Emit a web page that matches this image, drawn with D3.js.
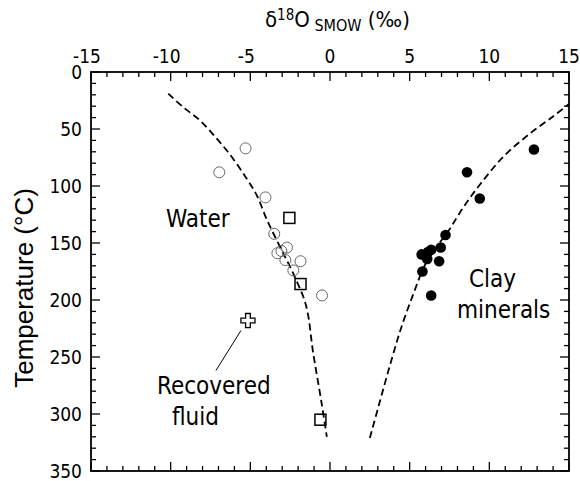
<!DOCTYPE html>
<html>
<head>
<meta charset="utf-8">
<script src="https://d3js.org/d3.v7.min.js"></script>
<style>
body { margin: 0; background: #fff; }
.cond { font-family: "DejaVu Sans Condensed", "DejaVu Sans", sans-serif; font-stretch: condensed; }
</style>
</head>
<body>
<div id="chart-area"></div>
<script>
/*
*    main.js
*/

// open circles - water
var waterD18O = [-5.3, -6.95, -4.05, -3.5, -2.7, -3.05, -3.3, -2.8, -1.85, -2.3, -0.5]
var waterTemp = [67, 88, 110, 142, 154, 157, 159, 165, 166, 174, 196]

// squares
var squareD18O = [-2.55, -1.85, -0.6]
var squareTemp = [128, 186, 305]

// filled circles - clay minerals
var clayD18O = [12.8, 8.6, 9.4, 7.25, 6.95, 6.35, 5.75, 6.1, 6.85, 5.8, 6.35, 6.15]
var clayTemp = [68, 88, 111, 143, 154, 156, 160, 164, 166, 175, 196, 158]

// recovered fluid
var fluidD18O = [-5.15]
var fluidTemp = [218]

// dashed curves
var waterCurveD18O = [-10.15, -9.2, -8.2, -7.2, -6.3, -5.3, -4.6, -3.95, -3.15, -2.2, -1.5, -1.05, -0.52, -0.2]
var waterCurveTemp = [19, 31, 42, 57, 72, 92, 108, 130, 153, 180, 205, 247, 291, 320]
var clayCurveD18O = [2.5, 3.15, 3.85, 4.5, 5.25, 5.9, 6.5, 7.45, 8.4, 9.45, 10.9, 12.55, 14, 15]
var clayCurveTemp = [321, 288, 253, 223, 194, 171, 157, 139, 118, 98, 74, 54, 39, 28]

var xTicks = [-15, -10, -5, 0, 5, 10, 15]
var yTicks = [0, 50, 100, 150, 200, 250, 300, 350]

var margin = {top: 72, right: 11, bottom: 10, left: 91}
var width = 580 - margin.left - margin.right
var height = 481 - margin.top - margin.bottom

var svg = d3.select("#chart-area").append("svg")
.attr("width", 580)
.attr("height", 481)

var g = svg.append("g")
.attr("transform", "translate(" + margin.left + ", " + margin.top + ")")

var x = d3.scaleLinear()
.range([0, width])
.domain([-15, 15])

var y = d3.scaleLinear()
.range([0, 399])
.domain([0, 350])

// frame ticks (inward on all sides)
var xMinor = d3.range(-15, 16, 1)
var yMinor = d3.range(0, 351, 10)

var ticks = g.append("g")
.attr("stroke", "#000")
.attr("stroke-width", 1.3)

xMinor.forEach(v => {
	var len = (v % 5 == 0) ? 9 : 5
	ticks.append("line").attr("x1", x(v)).attr("x2", x(v)).attr("y1", 0).attr("y2", len)
	ticks.append("line").attr("x1", x(v)).attr("x2", x(v)).attr("y1", y(350)).attr("y2", y(350) - len)
})
yMinor.forEach(v => {
	var len = (v % 50 == 0) ? 9 : 5
	ticks.append("line").attr("y1", y(v)).attr("y2", y(v)).attr("x1", 0).attr("x2", len)
	ticks.append("line").attr("y1", y(v)).attr("y2", y(v)).attr("x1", width).attr("x2", width - len)
})

g.append("rect")
.attr("width", width)
.attr("height", y(350))
.attr("fill", "none")
.attr("stroke", "#000")
.attr("stroke-width", 1.8)

// tick labels
g.selectAll(".xlab").data(xTicks).enter().append("text")
.attr("class", "xlab cond")
.attr("x", d => x(d) - (d < 0 ? 4 : 0))
.attr("y", -9)
.attr("text-anchor", "middle")
.attr("font-size", "19px")
.text(d => d)

g.selectAll(".ylab").data(yTicks).enter().append("text")
.attr("class", "ylab cond")
.attr("x", -9)
.attr("y", d => y(d) + 7)
.attr("text-anchor", "end")
.attr("font-size", "19px")
.text(d => d)

// X Label
var title = svg.append("text")
.attr("class", "cond")
.attr("x", 265)
.attr("y", 27)
.attr("font-size", "22px")
title.append("tspan").text("δ")
title.append("tspan").attr("font-size", "15px").attr("dy", -7).text("18")
title.append("tspan").attr("dy", 7).text("O")
title.append("tspan").attr("font-size", "16px").attr("dy", 4).text(" SMOW")
title.append("tspan").attr("dy", -4).text(" (‰)")

// Y Label
svg.append("text")
.attr("x", -288)
.attr("y", 33)
.attr("font-size", "26px")
.attr("font-family", "Liberation Sans, Arial, sans-serif")
.attr("text-anchor", "middle")
.attr("transform", "rotate(-90)")
.text("Temperature (\u00B0C)")

// dashed curves
var line = d3.line()
.x(d => x(d[0]))
.y(d => y(d[1]))
.curve(d3.curveCatmullRom)

g.append("path")
.datum(waterCurveD18O.map((v, i) => [v, waterCurveTemp[i]]))
.attr("d", line)
.attr("fill", "none")
.attr("stroke", "#000")
.attr("stroke-width", 1.8)
.attr("stroke-dasharray", "7,4")

g.append("path")
.datum(clayCurveD18O.map((v, i) => [v, clayCurveTemp[i]]))
.attr("d", line)
.attr("fill", "none")
.attr("stroke", "#000")
.attr("stroke-width", 1.8)
.attr("stroke-dasharray", "7,4")

// water (open circles)
g.selectAll(".water").data(waterD18O).enter().append("circle")
.attr("class", "water")
.attr("cx", d => x(d))
.attr("cy", (d, i) => y(waterTemp[i]))
.attr("r", 5.5)
.attr("fill", "none")
.attr("stroke", "#666")
.attr("stroke-width", 1)

// squares
g.selectAll(".sq").data(squareD18O).enter().append("rect")
.attr("class", "sq")
.attr("x", d => x(d) - 5.5)
.attr("y", (d, i) => y(squareTemp[i]) - 5.5)
.attr("width", 11)
.attr("height", 11)
.attr("fill", "none")
.attr("stroke", "#000")
.attr("stroke-width", 1.5)

// clay minerals (filled)
g.selectAll(".clay").data(clayD18O).enter().append("circle")
.attr("class", "clay")
.attr("cx", d => x(d))
.attr("cy", (d, i) => y(clayTemp[i]))
.attr("r", 5.3)
.attr("fill", "#000")

// recovered fluid (open cross)
var cross = d3.symbol().type(d3.symbolCross).size(110)
g.selectAll(".fluid").data(fluidD18O).enter().append("path")
.attr("class", "fluid")
.attr("d", cross)
.attr("transform", (d, i) => "translate(" + x(d) + "," + y(fluidTemp[i]) + ")")
.attr("fill", "#fff")
.attr("stroke", "#000")
.attr("stroke-width", 1.3)

// leader line
g.append("line")
.attr("x1", x(fluidD18O[0]) - 7)
.attr("y1", y(fluidTemp[0]) + 10)
.attr("x2", x(fluidD18O[0]) - 32)
.attr("y2", y(fluidTemp[0]) + 50)
.attr("stroke", "#000")
.attr("stroke-width", 1)

// text labels
var labels = [
	{t: "Water", x: 166, y: 227},
	{t: "Clay", x: 469, y: 287},
	{t: "minerals", x: 457, y: 318},
	{t: "Recovered", x: 157, y: 394},
	{t: "fluid", x: 172, y: 425}
]
labels.forEach(l => {
	svg.append("text")
	.attr("class", "cond")
	.attr("x", l.x)
	.attr("y", l.y)
	.attr("font-size", "24px")
	.text(l.t)
})
</script>
</body>
</html>
